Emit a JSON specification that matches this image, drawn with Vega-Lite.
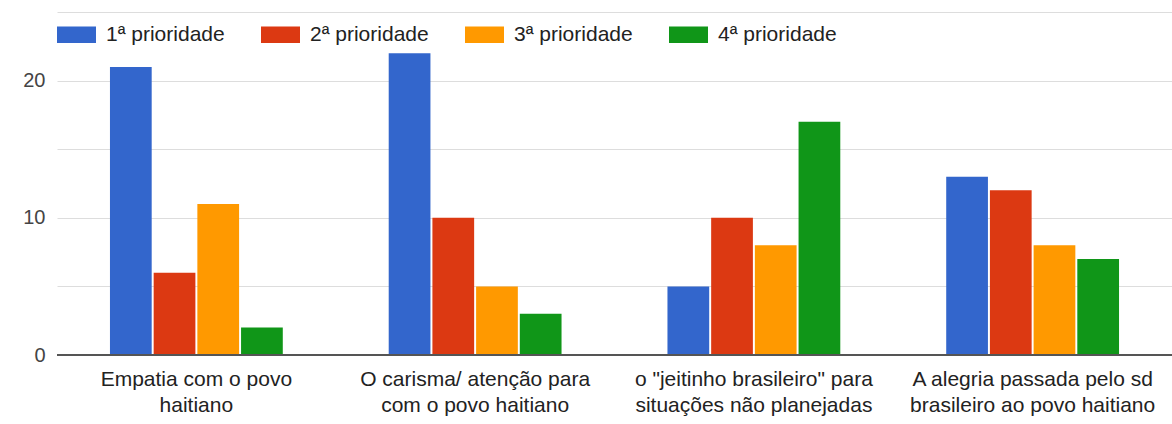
{
  "$schema": "https://vega.github.io/schema/vega-lite/v6.json",
  "width": 1115,
  "height": 343,
  "autosize": {"type": "none"},
  "padding": {"left": 57, "top": 12, "right": 0, "bottom": 69},
  "background": "white",
  "config": {
    "view": {"stroke": null},
    "font": "Liberation Sans"
  },
  "data": {
    "values": [
      {"tema": "Empatia com o povo|haitiano", "prioridade": "1ª prioridade", "respostas": 21},
      {"tema": "Empatia com o povo|haitiano", "prioridade": "2ª prioridade", "respostas": 6},
      {"tema": "Empatia com o povo|haitiano", "prioridade": "3ª prioridade", "respostas": 11},
      {"tema": "Empatia com o povo|haitiano", "prioridade": "4ª prioridade", "respostas": 2},
      {"tema": "O carisma/ atenção para|com o povo haitiano", "prioridade": "1ª prioridade", "respostas": 22},
      {"tema": "O carisma/ atenção para|com o povo haitiano", "prioridade": "2ª prioridade", "respostas": 10},
      {"tema": "O carisma/ atenção para|com o povo haitiano", "prioridade": "3ª prioridade", "respostas": 5},
      {"tema": "O carisma/ atenção para|com o povo haitiano", "prioridade": "4ª prioridade", "respostas": 3},
      {"tema": "o \"jeitinho brasileiro\" para|situações não planejadas", "prioridade": "1ª prioridade", "respostas": 5},
      {"tema": "o \"jeitinho brasileiro\" para|situações não planejadas", "prioridade": "2ª prioridade", "respostas": 10},
      {"tema": "o \"jeitinho brasileiro\" para|situações não planejadas", "prioridade": "3ª prioridade", "respostas": 8},
      {"tema": "o \"jeitinho brasileiro\" para|situações não planejadas", "prioridade": "4ª prioridade", "respostas": 17},
      {"tema": "A alegria passada pelo sd|brasileiro ao povo haitiano", "prioridade": "1ª prioridade", "respostas": 13},
      {"tema": "A alegria passada pelo sd|brasileiro ao povo haitiano", "prioridade": "2ª prioridade", "respostas": 12},
      {"tema": "A alegria passada pelo sd|brasileiro ao povo haitiano", "prioridade": "3ª prioridade", "respostas": 8},
      {"tema": "A alegria passada pelo sd|brasileiro ao povo haitiano", "prioridade": "4ª prioridade", "respostas": 7}
    ]
  },
  "layer": [
    {
      "mark": {"type": "bar"},
      "encoding": {
        "x": {
          "field": "tema",
          "type": "nominal",
          "sort": null,
          "title": null,
          "scale": {"paddingInner": 0.38, "paddingOuter": 0.19},
          "axis": {
            "domain": false,
            "ticks": false,
            "labelAngle": 0,
            "labelExpr": "split(datum.label, '|')",
            "labelFontSize": 21,
            "labelColor": "#222222",
            "labelPadding": 13,
            "labelBaseline": "top",
            "labelLineHeight": 26,
            "labelLimit": 0
          }
        },
        "xOffset": {
          "field": "prioridade",
          "type": "nominal",
          "scale": {"paddingInner": 0.045, "paddingOuter": 0}
        },
        "y": {
          "field": "respostas",
          "type": "quantitative",
          "title": null,
          "scale": {"domain": [0, 25], "nice": false},
          "axis": {
            "values": [0, 5, 10, 15, 20, 25],
            "labelExpr": "datum.value % 10 === 0 && datum.value < 25 ? datum.label : ''",
            "domain": false,
            "ticks": false,
            "gridColor": "#dddddd",
            "gridWidth": 1.2,
            "labelFontSize": 20,
            "labelColor": "#444444",
            "labelPadding": 12
          }
        },
        "color": {
          "field": "prioridade",
          "type": "nominal",
          "scale": {
            "domain": ["1ª prioridade", "2ª prioridade", "3ª prioridade", "4ª prioridade"],
            "range": ["#3366cc", "#dc3912", "#ff9900", "#109618"]
          },
          "legend": {
            "title": null,
            "orient": "none",
            "direction": "horizontal",
            "legendX": 0,
            "legendY": 3,
            "symbolType": "M-1,-0.42H1V0.42H-1Z",
            "symbolSize": 1521,
            "symbolStrokeWidth": 0,
            "symbolOpacity": 1,
            "labelFontSize": 21,
            "labelColor": "#222222",
            "labelOffset": 10,
            "columnPadding": 36,
            "labelLimit": 0
          }
        }
      }
    },
    {
      "mark": {"type": "rule", "color": "#555555", "strokeWidth": 2},
      "encoding": {"y": {"datum": 0}}
    }
  ]
}
